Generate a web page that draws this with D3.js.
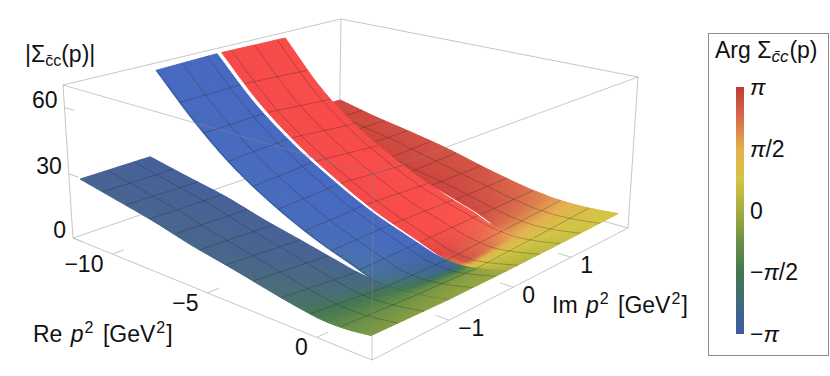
<!DOCTYPE HTML>
<html>
  <head>
    <meta charset='utf-8'>
    <title>Sigma cc surface</title>
    <script src='https://d3js.org/d3.v7.min.js'></script>
    <style>
      body {margin:0; background:#fff;}
      text {font-family:'Liberation Sans',Arial,sans-serif; font-size:23px; fill:#111;}
    </style>
  </head>
  <body>
  <svg id='chart' width='830' height='376'></svg>
<script>
// values
var reTicks=[-10,-5,0], imTicks=[-1,0,1], zTicks=[0,30,60];
var reMesh=[-10.727,-9.455,-8.182,-6.909,-5.636,-4.364,-3.091,-1.818,-.545,.727];
var imMesh=[-1.636,-1.273,-.909,-.545,-.182,.182,.545,.909,1.273,1.636];
var reKnots=[-12,-10,-8,-6,-4,-2,-1.25,-1,0,1,2];
// |Sigma| along the long edges of the four strips
var zOuterLow=[27.5,24,20.4,16,12.5,8.7,7.4,7,5.8,6,7.3];
var zGapA=[28,23.9,20,15,10.4,5.4,3.6,3,3.2,4.3,6.3];
var zGapB=[67.7,49,33.5,22,13,6.2,3.6,3,3.2,4.3,6.3];
var zCut=[68.6,49.6,35,23.5,13.8,6.6,4,3.2,1.9,3.5,6.2];
var zGapC=[68.2,47.2,32,21,12.5,7,5,4.5,3.5,4.5,6.5];
var zGapD=[28,24,20,15,11.5,6.8,5,4.5,3.5,4.5,6.5];
var zOuterHigh=[27.6,23.4,20,16.2,11.3,7.2,6.3,5.9,5.6,6,7];
// Im position of the strip edges
var imGapA=[-1.05,-1.03,-1.01,-1,-.98,-.95,-.92,-.92,-.92,-.92,-.92];
var imGapB=[-.92,-.92,-.92,-.92,-.92,-.92,-.92,-.92,-.92,-.92,-.92];
var imCutLow=[-.035,-.033,-.03,-.028,-.025,-.02,-.016,-.012,0,0,0];
var imCutHigh=[.035,.033,.03,.028,.025,.02,.016,.012,0,0,0];
var imGapC=[1.04,1.04,1.04,1.04,1.04,1,.96,.95,.95,.95,.95];
var imGapD=[1.1,1.1,1.1,1.1,1.09,1.04,.99,.95,.95,.95,.95];
// phase on a coarser grid
var argRe=[-12,-4,-2,-1,0,.5,1,2];
var argOuterLow=[-2.95,-2.65,-2.2,-1.85,-1.35,-1.1,-.85,-.55];
var argMidLow=[-3.1,-3,-2.75,-2.35,-1.45,-1,-.65,-.35];
var argCutLow=[-3.14,-3.14,-3.14,-3.12,-2.9,-1,-.3,-.1];
var argCutHigh=[3.14,3.14,3.14,3.12,2.9,1,.45,.2];
var argMidHigh=[3.12,3.08,3,2.5,1.6,1.05,.75,.55];
var argOuterHigh=[2.95,2.75,2.4,2,1.5,1.25,1.05,.8];
var argIm=[-2,-1,-.05,.05,1,2];
var legendArgs=[-Math.PI,-2.356,-Math.PI/2,-.785,0,.785,Math.PI/2,2.356,Math.PI];
var legendColors=['#3c5aa5','#3f6a7c','#43774f','#6c9146','#a5ac3e','#d3c545','#e3b04f','#d66c4a','#c23a3a'];
var legendLabels=['\u2212π','\u2212π/2','0','π/2','π'];
var legendTicks=[-Math.PI,-Math.PI/2,0,Math.PI/2,Math.PI];

var svg=d3.select('#chart');
var reScale=d3.scaleLinear().domain([-12.28,2.28]).range([0,1]);
var imScale=d3.scaleLinear().domain([-2.08,2.08]).range([0,1]);
var zScale=d3.scaleLinear().domain([0,70]).range([0,1]);
var argColor=d3.scaleLinear().domain(legendArgs).range(legendColors).clamp(true);

// the box in perspective: u along Re, v along Im, w along z, d = relative depth
var box=[[0,0,0,73,238,1.222],[1,0,0,372,360,1],[1,1,0,628,228,1.23],[0,1,0,339,147,1.452],
         [0,0,1,63,85,1.179],[1,0,1,373,174,.957],[1,1,1,638,77,1.187],[0,1,1,341,19,1.409]];
function project(re,im,z){
  var u=reScale(re),v=imScale(im),w=zScale(z),X=0,Y=0,D=0;
  box.forEach(function(c){
    var k=(c[0]?u:1-u)*(c[1]?v:1-v)*(c[2]?w:1-w)*c[5];
    X+=k*c[3]; Y+=k*c[4]; D+=k;});
  return [X/D,Y/D];}

// Hermite through the read values, only used to draw smooth curves between them
function smooth(xs,ys){
  var m=ys.map(function(y,i){
    var a=Math.max(i-1,0),b=Math.min(i+1,ys.length-1);
    return (ys[b]-ys[a])/(xs[b]-xs[a]);});
  return function(x){
    var i=Math.min(d3.bisectRight(xs,x)-1,xs.length-2),h=xs[i+1]-xs[i],t=(x-xs[i])/h;
    return (2*t*t*t-3*t*t+1)*ys[i]+(t*t*t-2*t*t+t)*h*m[i]+(-2*t*t*t+3*t*t)*ys[i+1]+(t*t*t-t*t)*h*m[i+1];};}
function linear(xs,ys){return d3.scaleLinear().domain(xs).range(ys);}

var argCols=[argOuterLow,argMidLow,argCutLow,argCutHigh,argMidHigh,argOuterHigh].map(function(c){return linear(argRe,c);});
function argAt(re,im){
  var i=Math.max(0,Math.min(d3.bisectRight(argIm,im)-1,argIm.length-2));
  var t=(im-argIm[i])/(argIm[i+1]-argIm[i]);
  return argCols[i](re)*(1-t)+argCols[i+1](re)*t;}

var strips=[
  {im0:imGapD,im1:imGapD.map(function(){return 2;}),z0:zGapD,z1:zOuterHigh,lift:1.04,mute:0},
  {im0:imCutHigh,im1:imGapC,z0:zCut,z1:zGapC,lift:1.27,mute:0},
  {im0:imGapB,im1:imCutLow,z0:zGapB,z1:zCut,lift:1.17,mute:0},
  {im0:imGapA.map(function(){return -2;}),im1:imGapA,z0:zOuterLow,z1:zGapA,lift:1.02,mute:.2}];
var fade=d3.scaleLinear().domain([-2,.2]).range([1,0]).clamp(true);

function stripColor(s,re,im){
  var c=d3.rgb(argColor(argAt(re,im))),k=1+(s.lift-1)*fade(re),m=s.mute*fade(re);
  return d3.rgb((c.r*k)*(1-m)+106*m,(c.g*k)*(1-m)+106*m,(c.b*k)*(1-m)+106*m).formatHex();}

var boxLine=d3.line();
function edge(g,a,b,op){
  g.append('path').attr('d',boxLine([project.apply(null,a),project.apply(null,b)]))
   .attr('fill','none').attr('stroke',op?'#8a8a8a':'#c6c6c6').attr('stroke-width',1)
   .attr('stroke-opacity',op||1);}
var reA=reScale.domain()[0],reB=reScale.domain()[1],imA=imScale.domain()[0],imB=imScale.domain()[1],zT=zScale.domain()[1];

// back of the box
var back=svg.append('g');
edge(back,[reA,imB,0],[reA,imB,zT]);
edge(back,[reA,imA,0],[reA,imB,0]);
edge(back,[reB,imB,0],[reA,imB,0]);
edge(back,[reA,imA,zT],[reA,imB,zT]);
edge(back,[reB,imB,zT],[reA,imB,zT]);
edge(back,[reA,imA,0],[reA,imA,zT]);
edge(back,[reB,imB,0],[reB,imB,zT]);
edge(back,[reA,imA,0],[reB,imA,0]);
edge(back,[reB,imA,0],[reB,imB,0]);

// axis ticks
var ticks=svg.append('g');
reTicks.forEach(function(t){edge(ticks,[t,imA,0],[t,imA+.15,0]);});
imTicks.forEach(function(t){edge(ticks,[reB,t,0],[reB-.55,t,0]);});
zTicks.forEach(function(t){edge(ticks,[reA,imA,t],[reA+.55,imA,t]);});

// surface, far strip first
var stepsRe=d3.range(0,170),stepsIm=d3.range(0,12),lineFn=d3.line();
strips.forEach(function(s){
  var i0=linear(reKnots,s.im0),i1=linear(reKnots,s.im1),z0=smooth(reKnots,s.z0),z1=smooth(reKnots,s.z1);
  function pt(re,f){
    var im=i0(re)+(i1(re)-i0(re))*f;
    return project(re,im,z0(re)+(z1(re)-z0(re))*f);}
  var cells=[],reAt=function(n){return -12+14*n/stepsRe.length;},fAt=function(n){return n/stepsIm.length;};
  stepsRe.forEach(function(a){stepsIm.forEach(function(b){
    var ra=reAt(a),rb=reAt(a+1),fa=fAt(b),fb=fAt(b+1);
    var rm=(ra+rb)/2,fm=(fa+fb)/2;
    cells.push({pts:[pt(ra,fa),pt(rb,fa),pt(rb,fb),pt(ra,fb)],
                col:stripColor(s,rm,i0(rm)+(i1(rm)-i0(rm))*fm)});});});
  var g=svg.append('g');
  g.selectAll('polygon').data(cells).join('polygon')
   .attr('points',function(d){return d.pts.map(function(p){return p[0].toFixed(2)+','+p[1].toFixed(2);}).join(' ');})
   .attr('fill',function(d){return d.col;}).attr('stroke',function(d){return d.col;}).attr('stroke-width',.9);
  var mesh=[];
  reMesh.forEach(function(r){mesh.push(d3.range(0,13).map(function(n){return pt(r,n/12);}));});
  imMesh.forEach(function(m){
    var run=[];
    d3.range(0,281).forEach(function(n){
      var r=-12+14*n/280,lo=i0(r),hi=i1(r);
      if(m>=lo&&m<=hi){run.push(pt(r,(m-lo)/(hi-lo)));}
      else if(run.length){mesh.push(run); run=[];}});
    if(run.length) mesh.push(run);});
  g.selectAll('path').data(mesh).join('path').attr('d',lineFn)
   .attr('fill','none').attr('stroke','#222').attr('stroke-opacity',.42).attr('stroke-width',.7);
});

// front edges of the box, faint over the surface
var front=svg.append('g');
edge(front,[reA,imA,zT],[reB,imA,zT],.45);
edge(front,[reB,imB,zT],[reB,imA,zT],.45);
edge(front,[reB,imA,0],[reB,imA,zT],.45);

function rich(sel,parts){
  parts.forEach(function(p){
    var t=sel.append('tspan').text(p.t);
    if(p.i) t.attr('font-style','italic');
    if(p.s) t.style('font-size',p.s+'px');
    if(p.dy) t.attr('dy',p.dy);
    if(p.dx) t.attr('dx',p.dx);});
  return sel;}
function piLabel(s){
  return s.split('').map(function(c){return c==='π'?{t:c,i:1}:{t:c};});}
function num(v){return String(v).replace('-','\u2212');}

// tick labels
reTicks.forEach(function(t){var p=project(t,imA,0);
  svg.append('text').attr('x',p[0]-9).attr('y',p[1]+18).attr('text-anchor','end').text(num(t));});
imTicks.forEach(function(t){var p=project(reB,t,0);
  svg.append('text').attr('x',p[0]+9).attr('y',p[1]+16).text(num(t));});
zTicks.forEach(function(t){var p=project(reA,imA,t);
  svg.append('text').attr('x',p[0]-7).attr('y',p[1]).attr('text-anchor','end').text(num(t));});

// axis titles
function axisTitle(x,y,name){
  rich(svg.append('text').attr('x',x).attr('y',y),
    [{t:name+' '},{t:'p',i:1,dx:2},{t:'2',s:16,dy:-9,dx:1},{t:' [GeV',dy:9,dx:3},{t:'2',s:16,dy:-9,dx:1},{t:']',dy:9,dx:1}]);}
axisTitle(33,342,'Re');
axisTitle(552,313,'Im');
rich(svg.append('text').attr('x',25).attr('y',62),
  [{t:'|Σ'},{t:'c\u0304c',s:16,dy:4},{t:'(p)|',dy:-4}]);

// legend
var legend=svg.append('g');
legend.append('rect').attr('x',708.5).attr('y',33.5).attr('width',120).attr('height',322)
  .attr('fill','#fff').attr('stroke','#8c8c8c').attr('stroke-width',1);
rich(legend.append('text').attr('x',715).attr('y',58),
  [{t:'Arg Σ',dx:0},{t:'c\u0304c',i:1,s:17,dy:4},{t:'(p)',dy:-4,dx:1}]);
var barY=d3.scaleLinear().domain([-Math.PI,Math.PI]).range([334,87]);
var grad=svg.append('defs').append('linearGradient').attr('id','bar')
  .attr('x1',0).attr('x2',0).attr('y1',1).attr('y2',0);
grad.selectAll('stop').data(legendArgs).join('stop')
  .attr('offset',function(d){return (d+Math.PI)/(2*Math.PI);})
  .attr('stop-color',function(d){return argColor(d);});
legend.append('rect').attr('x',736).attr('y',barY(Math.PI)).attr('width',8)
  .attr('height',barY(-Math.PI)-barY(Math.PI)).attr('fill','url(#bar)');
legendTicks.forEach(function(t,i){
  rich(legend.append('text').attr('x',750).attr('y',barY(t)+8),piLabel(legendLabels[i]));});
</script>
  </body>
</html>
